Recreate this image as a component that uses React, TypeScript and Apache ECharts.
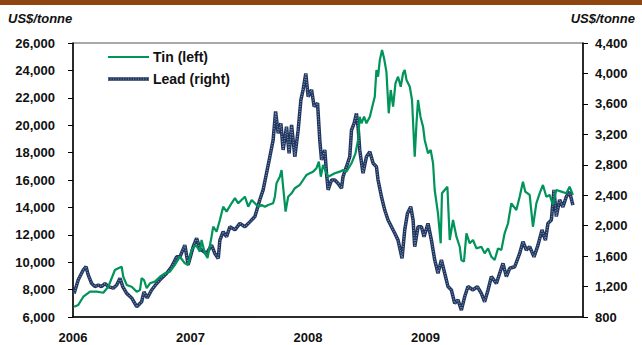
import React, { useEffect, useRef } from "react";
import * as echarts from "echarts";

const yearLabels = [2006, 2007, 2008, 2009];

const tinYears = [
  2006.01, 2006.045, 2006.088, 2006.145, 2006.202, 2006.258, 2006.3, 2006.329, 2006.357, 2006.385,
  2006.414, 2006.428, 2006.457, 2006.499, 2006.542, 2006.57, 2006.584, 2006.604, 2006.627, 2006.655,
  2006.697, 2006.74, 2006.782, 2006.825, 2006.867, 2006.91, 2006.952, 2006.98, 2007.009, 2007.046,
  2007.08, 2007.094, 2007.122, 2007.145, 2007.179, 2007.193, 2007.222, 2007.25, 2007.278, 2007.307,
  2007.349, 2007.378, 2007.406, 2007.434, 2007.463, 2007.491, 2007.52, 2007.548, 2007.576, 2007.605,
  2007.633, 2007.661, 2007.703, 2007.718, 2007.732, 2007.76, 2007.775, 2007.788, 2007.809, 2007.831,
  2007.86, 2007.888, 2007.93, 2007.958, 2007.987, 2008.015, 2008.043, 2008.072, 2008.092, 2008.109,
  2008.128, 2008.157, 2008.171, 2008.228, 2008.27, 2008.298, 2008.327, 2008.37, 2008.404, 2008.426,
  2008.44, 2008.455, 2008.477, 2008.497, 2008.526, 2008.554, 2008.568, 2008.582, 2008.596, 2008.611,
  2008.63, 2008.647, 2008.667, 2008.687, 2008.704, 2008.724, 2008.744, 2008.766, 2008.789, 2008.809,
  2008.823, 2008.838, 2008.866, 2008.885, 2008.908, 2008.923, 2008.936, 2008.957, 2008.979, 2008.993,
  2009.021, 2009.044, 2009.064, 2009.078, 2009.106, 2009.129, 2009.14, 2009.163, 2009.186, 2009.206,
  2009.234, 2009.263, 2009.291, 2009.305, 2009.327, 2009.348, 2009.376, 2009.404, 2009.433, 2009.475,
  2009.503, 2009.532, 2009.56, 2009.588, 2009.617, 2009.645, 2009.673, 2009.702, 2009.73, 2009.773,
  2009.801, 2009.829, 2009.849, 2009.886, 2009.914, 2009.943, 2009.971, 2009.999, 2010.028, 2010.056,
  2010.084, 2010.113, 2010.156, 2010.198, 2010.226, 2010.254,
];
const tinValues = [
  6750, 6880, 7480, 7850, 7850, 7770, 8210, 8830, 9430, 9560,
  9670, 8940, 8340, 8210, 7850, 7970, 8830, 8700, 8100, 8460,
  8580, 8940, 9190, 9310, 9800, 10400, 9920, 9800, 10890, 11260,
  10770, 11620, 10650, 10310, 11860, 12590, 12230, 13080, 14050, 13690,
  14300, 14670, 14300, 14540, 14780, 14050, 14540, 14300, 14050, 14180,
  14050, 14180, 14300, 14780, 15760, 16240, 16730, 15510, 13690, 14780,
  15030, 15400, 15640, 16000, 16370, 16490, 16610, 16860, 17340, 16240,
  17100, 16490, 16240, 16490, 16610, 16730, 16610, 17220, 17950, 18920,
  20620, 20140, 20620, 20140, 20620, 21600, 22080, 24030, 23540, 24760,
  25490, 24890, 23910, 20870, 22570, 21350, 23060, 23540, 22810, 23790,
  24030, 23300, 22810, 21840, 17700, 20140, 21840, 20620, 19890, 18920,
  17950, 18190, 17220, 15270, 13570, 11380, 15030, 15270, 15510, 11620,
  13080, 11860, 11130, 10160, 10040, 12110, 11380, 11620, 11010, 11130,
  10650, 11010, 10400, 10160, 11010, 10890, 12110, 12840, 14300, 13810,
  14780, 15880, 15150, 14910, 12590, 14300, 15030, 15640, 14780, 14910,
  14180, 15270, 15150, 15030, 15510, 14910,
];

const leadYears = [
  2006.009, 2006.045, 2006.088, 2006.111, 2006.13, 2006.159, 2006.187, 2006.215, 2006.244, 2006.272,
  2006.3, 2006.343, 2006.372, 2006.4, 2006.423, 2006.457, 2006.499, 2006.542, 2006.584, 2006.604,
  2006.632, 2006.669, 2006.712, 2006.754, 2006.797, 2006.839, 2006.882, 2006.91, 2006.952, 2006.98,
  2007.023, 2007.052, 2007.08, 2007.094, 2007.137, 2007.179, 2007.207, 2007.236, 2007.25, 2007.278,
  2007.307, 2007.335, 2007.378, 2007.42, 2007.463, 2007.505, 2007.548, 2007.59, 2007.618, 2007.647,
  2007.675, 2007.703, 2007.724, 2007.746, 2007.769, 2007.788, 2007.817, 2007.839, 2007.86, 2007.888,
  2007.916, 2007.939, 2007.958, 2007.981, 2008.001, 2008.03, 2008.052, 2008.081, 2008.1, 2008.115,
  2008.143, 2008.157, 2008.171, 2008.2, 2008.228, 2008.256, 2008.285, 2008.298, 2008.327, 2008.355,
  2008.37, 2008.392, 2008.412, 2008.426, 2008.44, 2008.468, 2008.497, 2008.526, 2008.554, 2008.582,
  2008.596, 2008.625, 2008.653, 2008.681, 2008.71, 2008.738, 2008.766, 2008.8, 2008.823, 2008.846,
  2008.874, 2008.894, 2008.908, 2008.936, 2008.965, 2008.987, 2009.021, 2009.05, 2009.078, 2009.106,
  2009.135, 2009.163, 2009.191, 2009.22, 2009.248, 2009.276, 2009.305, 2009.333, 2009.361, 2009.404,
  2009.441, 2009.475, 2009.503, 2009.532, 2009.56, 2009.603, 2009.631, 2009.659, 2009.688, 2009.716,
  2009.759, 2009.801, 2009.829, 2009.858, 2009.886, 2009.923, 2009.957, 2009.991, 2010.02, 2010.042,
  2010.071, 2010.093, 2010.113, 2010.141, 2010.169, 2010.198, 2010.226, 2010.254,
];
const leadValues = [
  1110, 1290, 1420, 1460, 1350, 1240, 1200, 1220, 1200, 1240,
  1200, 1180, 1220, 1310, 1200, 1110, 1050, 935, 1000, 1130,
  1050, 1155, 1240, 1310, 1375, 1460, 1590, 1590, 1745, 1485,
  1725, 1835, 1700, 1680, 1635, 1745, 1635, 1570, 1810, 1920,
  1855, 1985, 1945, 2030, 1985, 2050, 2120, 2340, 2470, 2690,
  2905, 3125, 3500, 3215, 3345, 2995, 3300, 2950, 3325, 2905,
  3255, 3650, 3785, 4000, 3695, 3785, 3565, 3610, 3125, 2865,
  2995, 2690, 2470, 2600, 2600, 2555, 2490, 2645, 2775, 2905,
  3255, 3345, 3475, 3300, 2995, 2690, 2905, 2970, 2820, 2775,
  2600, 2380, 2205, 2075, 1985, 1900, 1810, 1570, 1945, 2160,
  2250, 2075, 1725, 1985, 1985, 1855, 2030, 1810, 1550, 1375,
  1550, 1375, 1200, 1155, 980, 1025, 890, 1065, 1200, 1155,
  1200, 1110, 1000, 1155, 1330, 1240, 1375, 1505, 1330, 1440,
  1460, 1635, 1790, 1680, 1725, 1590, 1745, 1945, 1810, 2030,
  2075, 2470, 2120, 2340, 2245, 2380, 2445, 2270,
];

const FONT = '"Liberation Sans", Arial, Helvetica, sans-serif';
const TIN_COLOR = "#00935a";
const LEAD_COLOR = "#1f355e";
const LEAD_DOT = "#8595b6";

export default function App() {
  const ref = useRef<HTMLDivElement>(null);

  useEffect(() => {
    if (!ref.current) return;
    const chart = echarts.init(ref.current, undefined, { renderer: "svg" });
    const tinData = tinYears.map((x, i) => [x, tinValues[i]]);
    const leadData = leadYears.map((x, i) => [x, leadValues[i]]);
    const fmt = (v: number) => v.toLocaleString("en-US");

    chart.setOption({
      animation: false,
      backgroundColor: "#ffffff",
      grid: {
        left: 73,
        right: 59,
        top: 43,
        bottom: 28,
        show: true,
        borderColor: "#555",
        borderWidth: 1,
        containLabel: false,
      },
      xAxis: {
        type: "value",
        min: 2006,
        max: 2010.34,
        interval: 1,
        axisLine: { show: true, lineStyle: { color: "#000", width: 1.5 } },
        axisTick: { show: false },
        splitLine: { show: false },
        axisLabel: {
          showMaxLabel: false,
          margin: 14,
          color: "#111",
          fontFamily: FONT,
          fontWeight: "bold",
          fontSize: 13,
          formatter: (v: number) =>
            yearLabels.indexOf(Math.round(v)) >= 0 && Math.abs(v - Math.round(v)) < 1e-6
              ? String(Math.round(v))
              : "",
        },
      },
      yAxis: [
        {
          type: "value",
          position: "left",
          min: 6000,
          max: 26000,
          interval: 2000,
          axisLine: { show: true, lineStyle: { color: "#000", width: 1.5 } },
          axisTick: { show: true, length: 5, inside: false, lineStyle: { color: "#000" } },
          splitLine: { show: false },
          axisLabel: {
            margin: 18,
            color: "#111",
            fontFamily: FONT,
            fontWeight: "bold",
            fontSize: 13,
            formatter: fmt,
          },
        },
        {
          type: "value",
          position: "right",
          min: 800,
          max: 4400,
          interval: 400,
          axisLine: { show: true, lineStyle: { color: "#000", width: 1.5 } },
          axisTick: { show: true, length: 5, inside: false, lineStyle: { color: "#000" } },
          splitLine: { show: false },
          axisLabel: {
            margin: 12,
            color: "#111",
            fontFamily: FONT,
            fontWeight: "bold",
            fontSize: 13,
            formatter: fmt,
          },
        },
      ],
      series: [
        {
          name: "Lead (right)",
          type: "line",
          yAxisIndex: 1,
          data: leadData,
          showSymbol: false,
          symbol: "none",
          lineStyle: { color: LEAD_COLOR, width: 3.5 },
          z: 2,
        },
        {
          name: "Lead texture",
          type: "line",
          yAxisIndex: 1,
          data: leadData,
          showSymbol: false,
          symbol: "none",
          lineStyle: { color: LEAD_DOT, width: 1.2, type: [1, 1.5] },
          z: 3,
        },
        {
          name: "Tin (left)",
          type: "line",
          yAxisIndex: 0,
          data: tinData,
          showSymbol: false,
          symbol: "none",
          lineStyle: { color: TIN_COLOR, width: 2.2 },
          z: 4,
        },
      ],
      graphic: [
        {
          type: "rect",
          shape: { x: 0, y: 0, width: 642, height: 5 },
          style: { fill: "#8e4510" },
        },
        {
          type: "text",
          x: 8,
          y: 18,
          style: {
            text: "US$/tonne",
            fill: "#111",
            font: `italic bold 13px ${FONT}`,
            verticalAlign: "middle",
            align: "left",
          },
        },
        {
          type: "text",
          x: 635,
          y: 18,
          style: {
            text: "US$/tonne",
            fill: "#111",
            font: `italic bold 13px ${FONT}`,
            verticalAlign: "middle",
            align: "right",
          },
        },
        {
          type: "line",
          shape: { x1: 108, y1: 57, x2: 149, y2: 57 },
          style: { stroke: TIN_COLOR, lineWidth: 2 },
        },
        {
          type: "text",
          x: 153,
          y: 57,
          style: {
            text: "Tin (left)",
            fill: "#111",
            font: `bold 14px ${FONT}`,
            verticalAlign: "middle",
          },
        },
        {
          type: "line",
          shape: { x1: 108, y1: 79, x2: 149, y2: 79 },
          style: { stroke: LEAD_COLOR, lineWidth: 3.5 },
        },
        {
          type: "line",
          shape: { x1: 108, y1: 79, x2: 149, y2: 79 },
          style: { stroke: LEAD_DOT, lineWidth: 1.2, lineDash: [1, 1.5] },
        },
        {
          type: "text",
          x: 153,
          y: 79,
          style: {
            text: "Lead (right)",
            fill: "#111",
            font: `bold 14px ${FONT}`,
            verticalAlign: "middle",
          },
        },
      ],
    });
    return () => chart.dispose();
  }, []);

  return <div ref={ref} style={{ width: 642, height: 345, position: "absolute", left: 0, top: 0 }} />;
}
